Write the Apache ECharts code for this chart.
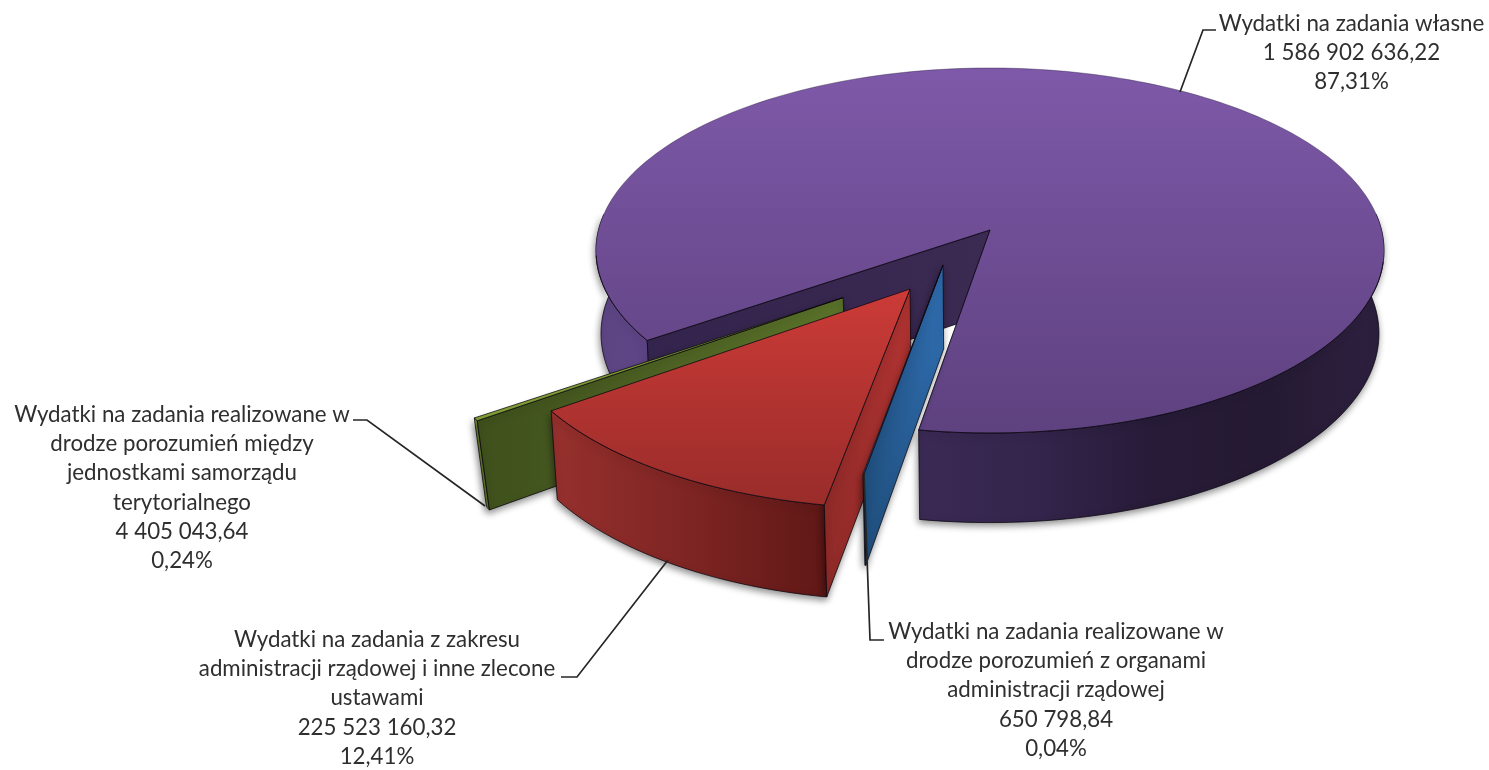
<!DOCTYPE html>
<html>
<head>
<meta charset="utf-8">
<style>html,body{margin:0;padding:0;background:#fff}#c{width:1489px;height:770px}</style>
<script src="https://cdn.jsdelivr.net/npm/echarts@6/dist/echarts.min.js"></script>
</head>
<body>
<div id="c"></div>
<script>
const categories = [
  "Wydatki na zadania własne",
  "Wydatki na zadania realizowane w\ndrodze porozumień z organami\nadministracji rządowej",
  "Wydatki na zadania z zakresu\nadministracji rządowej i inne zlecone\nustawami",
  "Wydatki na zadania realizowane w\ndrodze porozumień między\njednostkami samorządu\nterytorialnego"
];
const values = [1586902636.22, 650798.84, 225523160.32, 4405043.64];
const valueLabels = ["1 586 902 636,22", "650 798,84", "225 523 160,32", "4 405 043,64"];
const percentLabels = ["87,31%", "0,04%", "12,41%", "0,24%"];

const firstAngle = 235.0;
const scene = {cx: 990, cy: 230, R: 391.5, a: 0.1124, b: 180.2, vpY: 6800};
const explode = [[0, 0], [-0.1175, 0.19], [-0.197, 0.316], [-0.36, 0.36]];
const lowShift = [1, 1.1, 1, 1.7];
const zBase = [10, 40, 30, 20];
const labelPos = [[1351.5, 9], [1056, 617], [377, 625], [182, 400]];
const leaders = [
  [[1180, 92], [1203, 30], [1216, 30]],
  [[864, 473], [870, 640], [884, 640]],
  [[668, 560], [577, 677], [561, 677]],
  [[485, 506], [367, 420], [353, 420]]
];
const lg = (x, y, x2, y2, stops) => ({type: 'linear', x, y, x2, y2,
  colorStops: stops.map((c, i) => ({offset: i / (stops.length - 1), color: c}))});
const paints = [
  {top: lg(0,0,0,1,['#7e59a9','#5e417f']), face: lg(0,0,1,0,['#33244d','#3b2a52']),
   wall: lg(0,0,1,0,['#3a2a55','#33254c','#271b38','#251a33','#2d2040']), wall2: lg(0,0,1,0,['#5d4684','#5e4485'])},
  {top: '#4f81bd', face: lg(0,0,1,0,['#1f4e7c','#2f6cae']), wall: '#2b5f96'},
  {top: lg(0,0,0,1,['#cc3b37','#992c2a']), face: lg(0,0,1,0,['#8e2a28','#b03331']),
   wall: lg(0,0,1,0,['#96302d','#7e2523','#5f1816'])},
  {top: '#7e9c33', face: lg(0,0,1,0,['#3f501c','#5a722a']), wall: '#7e9c33'}
];

function proj(u, v, low, k) {
  const w = 1 / (1 - scene.a * v);
  let x = scene.cx + scene.R * u * w;
  let y = scene.cy + scene.b * v * w;
  if (low) {
    const h = 83 + (y - 240) * 0.034;
    x += (scene.cx - x) * h / (scene.vpY - y) * k;
    y += h;
  }
  return [x, y];
}
const total = values.reduce((s, x) => s + x, 0);
let acc = firstAngle;
const spans = values.map(x => { const s = acc; acc += x / total * 360; return [s, acc]; });

function rimPoint(deg, off, low, k) {
  const t = deg * Math.PI / 180;
  return proj(Math.sin(t) + off[0], -Math.cos(t) + off[1], low, k);
}
function arc(from, to, off, low, k) {
  const n = Math.max(1, Math.ceil(Math.abs(to - from) / 1.5));
  const pts = [];
  for (let i = 0; i <= n; i++) pts.push(rimPoint(from + (to - from) * i / n, off, low, k));
  return pts;
}
const edge = {stroke: 'rgba(10,5,15,0.85)', lineWidth: 0.9};

function renderSlice(params) {
  const i = params.dataIndex, off = explode[i], [s, e] = spans[i], p = paints[i], k = lowShift[i];
  const kids = [];
  const poly = (points, fill, z, st, shadow) => kids.push({
    type: 'polygon', z2: zBase[i] + z, shape: {points},
    style: Object.assign({fill}, st || edge, shadow ? {shadowBlur: 7, shadowColor: 'rgba(0,0,0,0.45)', shadowOffsetX: -1, shadowOffsetY: 3} : {})
  });
  const line = (points, z) => kids.push({
    type: 'polyline', z2: zBase[i] + z, shape: {points},
    style: Object.assign({fill: null}, edge)
  });
  const apexT = proj(off[0], off[1], false, k), apexB = proj(off[0], off[1], true, k);
  const wallPts = (a, b) => arc(a, b, off, false, k).concat(arc(a, b, off, true, k).reverse());
  if (i === 0) {
    poly(wallPts(85, e - 360), p.wall, 0, null, true);
    poly(wallPts(s, 275), p.wall2, 0, null, true);
  } else {
    poly(wallPts(s, e), p.wall, 1, null, true);
  }
  poly([apexT, rimPoint(s, off, false, k), rimPoint(s, off, true, k), apexB], p.face, 2, null, i !== 0);
  const topPts = [apexT].concat(arc(s, e, off, false, k));
  poly(topPts, p.top, 3, i === 0 ? {stroke: 'rgba(40,25,60,0.5)', lineWidth: 0.8} : edge);
  if (i === 0) {
    line(arc(100, e - 360, off, false, k), 4);
    line(arc(s, 262, off, false, k), 4);
    line([rimPoint(s, off, false, k), apexT, rimPoint(e - 360, off, false, k)], 4);
  }
  kids.push({
    type: 'polyline', z2: 100, shape: {points: leaders[i]},
    style: {fill: null, stroke: '#262626', lineWidth: 1.7}
  });
  kids.push({
    type: 'text', z2: 100, x: labelPos[i][0], y: labelPos[i][1],
    style: {
      text: categories[i] + '\n' + valueLabels[i] + '\n' + percentLabels[i],
      fill: '#2f2f2f', font: '22.3px Lato', align: 'center', verticalAlign: 'top', lineHeight: 29.3
    }
  });
  return {type: 'group', children: kids};
}

const chart = echarts.init(document.getElementById('c'), null, {renderer: 'canvas'});
chart.setOption({
  animation: false,
  backgroundColor: '#ffffff',
  series: [{
    type: 'custom', coordinateSystem: 'none', silent: true,
    data: values, renderItem: renderSlice
  }]
});
</script>
</body>
</html>
